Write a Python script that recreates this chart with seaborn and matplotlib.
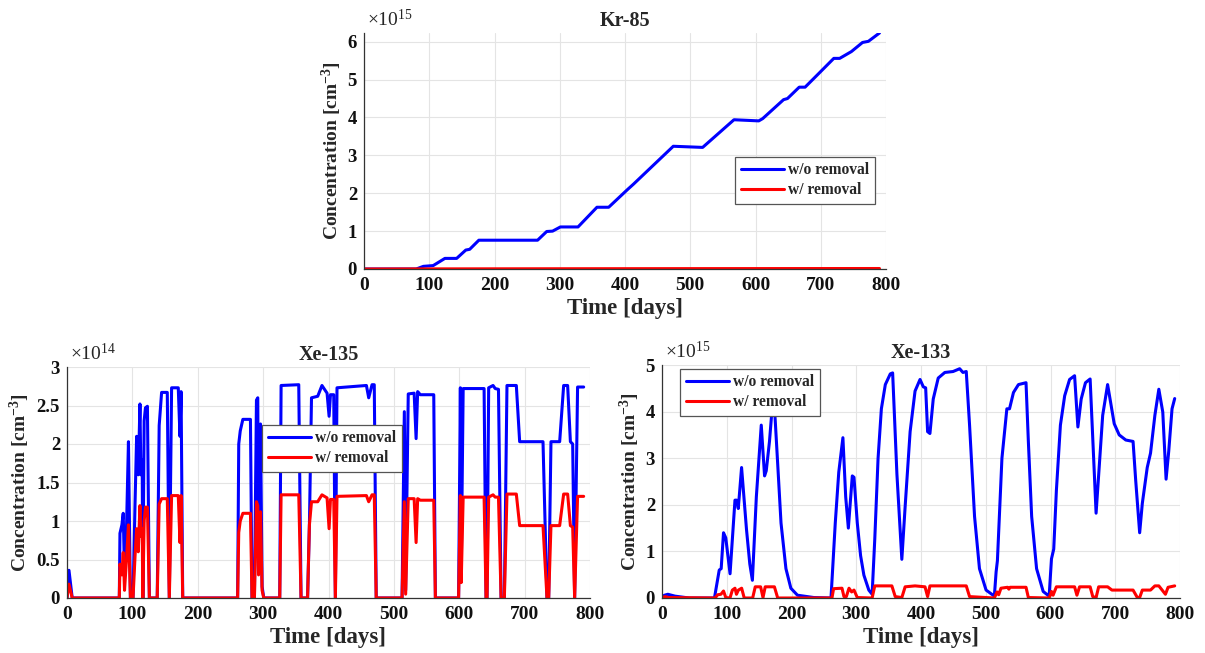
import numpy as np
import pandas as pd
import matplotlib
matplotlib.use("Agg")
import matplotlib.pyplot as plt
import seaborn as sns
from matplotlib.ticker import FuncFormatter

# ---------------- data (values in units of the axis multiplier) ----------------
kr_days = [0, 80, 91, 106, 124, 142, 156, 162, 176, 266, 280, 289, 301, 328, 357,
           375, 404, 413, 474, 519, 567, 605, 611, 643, 649, 667, 676, 694, 720,
           729, 747, 764, 773, 790]
kr_wo = [0, 0, 0.07, 0.09, 0.28, 0.28, 0.5, 0.52, 0.76, 0.76, 0.99, 1.0, 1.11, 1.11,
         1.63, 1.63, 2.1, 2.24, 3.24, 3.21, 3.94, 3.91, 3.97, 4.47, 4.5, 4.8, 4.8,
         5.11, 5.56, 5.56, 5.74, 5.98, 6.01, 6.23]
kr_w_days = [0, 100, 300, 500, 790]
kr_w = [0, 0.003, 0.007, 0.01, 0.013]

xe135_days = [0, 3, 8, 80, 81, 84, 86, 88, 91, 94, 97, 101, 104, 106.5, 109, 111.6,
              113, 115, 116, 118, 120, 123, 126, 138, 141, 144.7, 153.4, 156.5, 160,
              170.2, 172.8, 174.5, 177, 261, 262.7, 265, 269, 280.6, 283, 286.7,
              289.8, 291.8, 293, 296, 298.4, 301, 325.4, 327.5, 354.5, 358, 368,
              370.8, 374, 383.5, 390, 397.8, 400.9, 403, 408, 410.5, 413, 458, 461.5,
              466.6, 470, 473, 512.5, 516, 518, 522, 531, 534, 536.4, 540.5, 561,
              563.5, 599, 601.7, 603, 606, 638, 641, 642.5, 645, 651.7, 655, 660,
              664, 669, 673, 687.3, 692.4, 728.1, 734.2, 736.8, 740.3, 753.6, 759.7,
              765.8, 770, 773.5, 776.5, 781, 790.3]
xe135_wo = [0, 0.36, 0, 0, 0.84, 0.95, 1.1, 0.3, 0.9, 2.03, 0, 0, 1.2, 2.1, 1.6, 2.52,
            1.6, 1.79, 0, 2.3, 2.47, 2.49, 0, 0, 2.24, 2.67, 2.67, 0, 2.73, 2.73, 2.1,
            2.68, 0, 0, 2.0, 2.17, 2.32, 2.32, 0, 0, 2.57, 2.6, 0.5, 2.26, 0.15, 0, 0,
            2.76, 2.77, 0, 0, 0.95, 2.6, 2.62, 2.76, 2.66, 2.36, 2.64, 2.64, 0, 2.73,
            2.76, 2.6, 2.77, 2.77, 0, 0, 2.42, 0.1, 2.65, 2.66, 2.07, 2.68, 2.64, 2.64,
            0, 0, 2.73, 0.3, 2.72, 2.72, 0, 0, 2.73, 2.76, 2.72, 2.71, 0, 0, 2.76, 2.76,
            2.03, 2.03, 0, 0, 2.03, 2.03, 2.76, 2.76, 2.03, 2.0, 0, 2.74, 2.74]
xe135_w = [0, 0.18, 0, 0, 0.44, 0.3, 0.59, 0.1, 0.5, 0.95, 0, 0, 0.53, 0.9, 0.6, 1.2,
           0.8, 0.9, 0, 1.0, 1.18, 1.18, 0, 0, 1.22, 1.29, 1.29, 0, 1.33, 1.33, 0.72,
           1.33, 0, 0, 0.85, 1.0, 1.1, 1.1, 0, 0, 1.25, 1.2, 0.3, 1.12, 0.1, 0, 0,
           1.34, 1.34, 0, 0, 0.95, 1.25, 1.25, 1.34, 1.3, 0.9, 1.28, 1.28, 0, 1.32,
           1.33, 1.25, 1.34, 1.34, 0, 0, 1.25, 0.05, 1.29, 1.29, 0.72, 1.29, 1.27,
           1.27, 0, 0, 1.33, 0.2, 1.31, 1.31, 0, 0, 1.31, 1.34, 1.31, 1.31, 0, 0,
           1.35, 1.35, 0.94, 0.94, 0, 0, 0.94, 0.94, 1.35, 1.35, 0.94, 0.92, 0, 1.32,
           1.32]

xe133_wo_days = [0, 4, 9, 20, 42, 81, 88.4, 91.4, 95, 98.5, 105.1, 112.7, 115.3, 117.8,
                 122.9, 130.5, 135.6, 139.6, 145.7, 153.3, 158.4, 161, 166, 169.6, 172,
                 174.5, 178.7, 183.8, 191.4, 199, 209.2, 234.5, 261, 267.6, 273, 279.4,
                 283.7, 287.8, 293.9, 296.5, 301.6, 306.7, 311.8, 319.4, 324.5, 328.6,
                 333.7, 338.8, 344.9, 352.6, 356.2, 362.8, 370.4, 375.5, 383.2, 390.8,
                 398.5, 403.6, 407.2, 410.2, 413.8, 418.9, 426.6, 436.8, 449.5, 459.7,
                 464.8, 469.9, 475, 482.7, 490.3, 500.5, 513.3, 516, 518, 525, 532.6,
                 536.7, 542.8, 550.5, 562.2, 565.8, 570.9, 578.5, 588.7, 597.9, 601.5,
                 605, 609.1, 615.3, 621.9, 629.5, 637.2, 642.3, 647.4, 654, 661.2,
                 670.4, 680.6, 688.2, 698.4, 706.1, 716.3, 727.5, 731.6, 737.7, 741.8,
                 749.4, 754.5, 761.2, 767.3, 773.4, 778.5, 782.6, 787.7, 791.8]
xe133_wo = [0.03, 0.06, 0.08, 0.04, 0.0, 0.0, 0.6, 0.63, 1.4, 1.29, 0.52, 2.1, 2.1, 1.92,
            2.8, 1.47, 0.73, 0.38, 2.17, 3.71, 2.62, 2.73, 3.36, 3.99, 4.15, 3.9, 2.87,
            1.61, 0.63, 0.21, 0.06, 0.01, 0.0, 1.61, 2.7, 3.44, 2.17, 1.5, 2.62, 2.59,
            1.61, 0.91, 0.49, 0.17, 0.08, 1.26, 3.0, 4.06, 4.58, 4.81, 4.83, 2.66, 0.83,
            1.96, 3.57, 4.44, 4.69, 4.53, 4.51, 3.57, 3.53, 4.27, 4.72, 4.84, 4.86, 4.92,
            4.84, 4.86, 3.71, 1.75, 0.63, 0.17, 0.04, 0.56, 0.8, 3.0, 4.06, 4.06, 4.41,
            4.58, 4.62, 3.36, 1.75, 0.63, 0.14, 0.04, 0.84, 1.05, 2.31, 3.71, 4.34, 4.69,
            4.77, 3.67, 4.27, 4.62, 4.7, 1.82, 3.92, 4.58, 3.74, 3.5, 3.39, 3.36, 2.52,
            1.4, 2.03, 2.8, 3.11, 3.92, 4.48, 3.99, 2.55, 3.15, 4.06, 4.28]

xe133_w_days = [0, 5, 10, 82, 86, 91, 95, 98.5, 105, 108.7, 112.7, 115, 118, 123, 127,
                140, 144, 152.3, 156, 159.4, 173.6, 178.7, 262.5, 265, 278, 281, 284.7,
                288.8, 292.9, 296.5, 301.6, 324.5, 328.6, 355, 360.2, 370.4, 375.5,
                390.8, 406.2, 410.2, 413.8, 469.9, 475, 513.3, 517.4, 520, 523.5, 533.6,
                535.7, 537.7, 562.2, 565.8, 597.9, 601.5, 604, 609.1, 637.2, 640.8,
                644.9, 661.2, 665.3, 670.4, 674.4, 688.2, 694.9, 727.5, 734.1, 737.7,
                741.8, 754.5, 761.2, 767.3, 772.4, 777.5, 781.6, 791.8]
xe133_w = [0.01, 0.03, 0.01, 0, 0.07, 0.08, 0.15, 0.01, 0, 0.17, 0.21, 0.08, 0.17, 0.21,
           0, 0, 0.24, 0.24, 0.01, 0.24, 0.24, 0, 0, 0.2, 0.21, 0.03, 0.03, 0.21, 0.13,
           0.17, 0.01, 0, 0.26, 0.26, 0.03, 0.01, 0.24, 0.26, 0.24, 0.03, 0.26, 0.26,
           0.03, 0, 0.13, 0.07, 0.21, 0.23, 0.19, 0.23, 0.23, 0.01, 0, 0.14, 0.06, 0.24,
           0.24, 0.06, 0.24, 0.24, 0.03, 0.01, 0.24, 0.24, 0.17, 0.17, 0.01, 0.01, 0.17,
           0.17, 0.26, 0.26, 0.17, 0.08, 0.23, 0.26]

xticks = [0, 100, 200, 300, 400, 500, 600, 700, 800]
kr_yticks = [0, 1, 2, 3, 4, 5, 6]
xe135_yticks = [0, 0.5, 1, 1.5, 2, 2.5, 3]
xe133_yticks = [0, 1, 2, 3, 4, 5]
series_labels = ["w/o removal", "w/ removal"]

# ---------------- style ----------------
sns.set_theme(style="white")
plt.rcParams["font.family"] = ["Liberation Serif", "DejaVu Serif"]
plt.rcParams["font.weight"] = "bold"
plt.rcParams["mathtext.fontset"] = "custom"
plt.rcParams["mathtext.rm"] = "Liberation Serif"
plt.rcParams["mathtext.bf"] = "Liberation Serif:bold"
plt.rcParams["mathtext.default"] = "regular"

W, H = 1205, 653
fig = plt.figure(figsize=(W / 100, H / 100), dpi=100)
fig.patch.set_facecolor("white")


def px_axes(left, right, top, bottom):
    return fig.add_axes([left / W, 1 - bottom / H, (right - left) / W, (bottom - top) / H])


def draw(ax, d1, v1, d2, v2, exp, ymax, yticks, title, leg_xy):
    s = 10.0 ** exp
    sns.lineplot(x=np.array(d1), y=np.array(v1) * s, ax=ax, color="#0000ff", lw=2.2,
                 label=series_labels[0], sort=False, estimator=None)
    sns.lineplot(x=np.array(d2), y=np.array(v2) * s, ax=ax, color="#ff0000", lw=2.2,
                 label=series_labels[1], sort=False, estimator=None)
    ax.set_xlim(0, 800)
    ax.set_ylim(0, ymax * s)
    ax.set_xticks(xticks)
    ax.set_yticks([t * s for t in yticks])
    ax.yaxis.set_major_formatter(FuncFormatter(lambda v, p: f"{v / s:g}"))
    ax.grid(True, color="#e4e4e4", lw=0.8)
    ax.set_axisbelow(True)
    for side in ["top", "right"]:
        ax.spines[side].set_visible(False)
    for side in ["left", "bottom"]:
        ax.spines[side].set_color("#333333")
        ax.spines[side].set_linewidth(0.9)
    ax.tick_params(direction="in", length=4, width=0.8, color="#333333",
                   labelcolor="#111111")
    ax.tick_params(axis="x", labelsize=14, pad=6)
    ax.tick_params(axis="y", labelsize=13.5, pad=5)
    ax.set_xlabel("Time [days]", fontsize=16.5, fontweight="bold", labelpad=3)
    ax.set_ylabel("Concentration [cm$^{-3}$]", fontsize=14, fontweight="bold", labelpad=3)
    ax.set_title(title, fontsize=14.5, fontweight="bold", pad=5)
    ax.text(0.005, 1.012, r"$\times10^{%d}$" % exp, transform=ax.transAxes,
            ha="left", va="bottom", fontsize=14, fontweight="normal")
    leg = ax.legend(loc="upper left", bbox_to_anchor=leg_xy, fancybox=False,
                    framealpha=1, edgecolor="#555555", fontsize=11.2,
                    handlelength=2.8, borderpad=0.35, labelspacing=0.25,
                    handletextpad=0.25, borderaxespad=0)
    leg.get_frame().set_linewidth(0.9)


ax1 = px_axes(364, 886, 33, 269)
draw(ax1, kr_days, kr_wo, kr_w_days, kr_w, 15, 6.23, kr_yticks, "Kr-85", (0.711, 0.475))

ax2 = px_axes(67, 590, 367, 598)
draw(ax2, xe135_days, xe135_wo, xe135_days, xe135_w, 14, 3, xe135_yticks, "Xe-135",
     (0.373, 0.749))

ax3 = px_axes(662, 1180, 365, 598)
draw(ax3, xe133_wo_days, xe133_wo, xe133_w_days, xe133_w, 15, 5, xe133_yticks, "Xe-133",
     (0.035, 0.983))

fig.savefig("out.png", dpi=100, facecolor="white")
